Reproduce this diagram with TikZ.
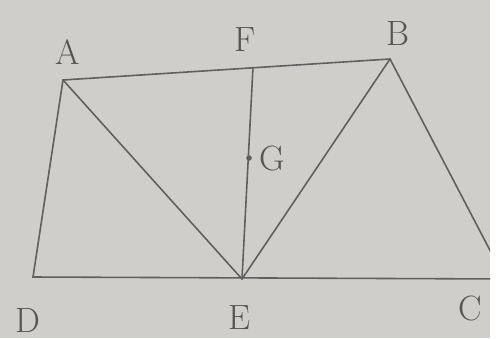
\documentclass[tikz,border=0pt]{standalone}
\usepackage{tikz}
\definecolor{paper}{RGB}{208,206,202}
\definecolor{pencil}{RGB}{95,95,95}
\tikzset{
  edge/.style={draw=pencil, line width=0.9pt},
  lbl/.style={font=\fontsize{20}{24}\selectfont, text=pencil!90!black, inner sep=0pt}
}
\begin{document}
\begin{tikzpicture}[x=0.02cm, y=-0.02cm]
  % paper, with the white strip at the right
  \fill[white] (0,0) rectangle (500,338);
  \fill[paper] (0,0) rectangle (490,338);
  \useasboundingbox (0,0) rectangle (500,338);
  \clip (0,0) rectangle (490,338);
  % points
  \coordinate (A) at (63,80);
  \coordinate (B) at (390,59);
  \coordinate (D) at (33,277);
  \coordinate (E) at (242,279);
  \coordinate (C) at (505,279);
  \coordinate (F) at (253,67);
  \coordinate (G) at (249,158);
  % figure
  \draw[edge] (A) -- (B) -- (C) -- (D) -- cycle;
  \draw[edge] (A) -- (E) -- (B);
  \draw[edge] (F) -- (E);
  \fill[pencil] (G) circle[radius=1.6pt];
  % labels
  \node[lbl] (la) at (68,52) {A};
  \node[lbl] (lf) at (245,40) {F};
  \node[lbl] (lb) at (398,33) {B};
  \node[lbl] (lg) at (272,158) {G};
  \node[lbl] (ld) at (28,320) {D};
  \node[lbl] (le) at (240,318) {E};
  \node[lbl] (lc) at (470,308) {C};
\end{tikzpicture}
\end{document}
